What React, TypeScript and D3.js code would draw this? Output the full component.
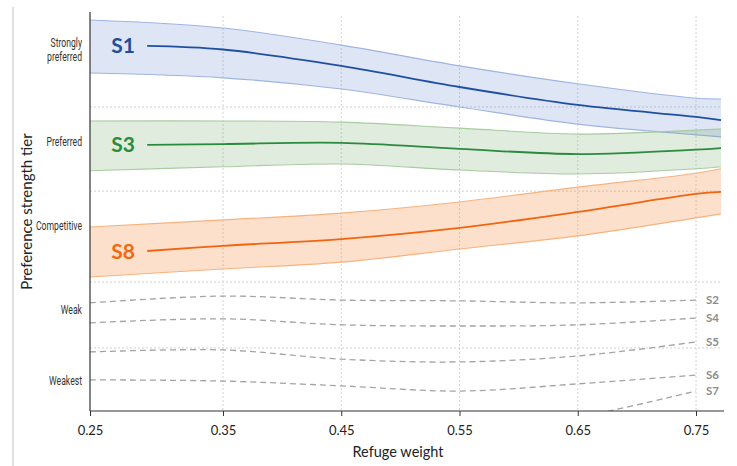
import React, { useEffect, useRef } from 'react';
import * as d3 from 'd3';

// x samples (refuge weight) used by the bands and the main lines
const bandX = [0.25, 0.35, 0.45, 0.55, 0.65, 0.75, 0.771];
const lineX = [0.293, 0.35, 0.45, 0.55, 0.65, 0.75, 0.771];
const dashX = [0.25, 0.35, 0.45, 0.55, 0.65, 0.75];

// preference score (0-100)
const s1Mid = [91.5, 90.6, 86.5, 81.2, 76.7, 73.7, 72.9];
const s1Hi = [98.0, 96.0, 91.7, 86.5, 82.0, 78.4, 78.2];
const s1Lo = [84.7, 83.5, 80.7, 76.2, 71.9, 69.2, 68.7];

const s3Mid = [66.7, 66.9, 67.2, 65.7, 64.4, 65.5, 65.9];
const s3Hi = [72.7, 72.7, 72.4, 70.9, 69.4, 70.4, 70.7];
const s3Lo = [60.2, 61.2, 61.9, 60.4, 59.4, 60.7, 61.2];

const s8Mid = [40.1, 41.4, 43.1, 45.9, 49.9, 54.4, 54.9];
const s8Hi = [46.1, 47.9, 49.6, 52.4, 56.1, 59.6, 60.7];
const s8Lo = [33.6, 35.6, 37.3, 40.6, 43.9, 48.4, 49.4];

const s2 = [27.1, 28.8, 27.8, 27.6, 27.1, 27.8];
const s4 = [22.1, 23.1, 21.6, 21.3, 21.6, 23.3];
const s5 = [14.8, 15.3, 13.0, 12.3, 13.8, 17.3];
const s6 = [7.8, 7.5, 6.3, 5.0, 6.8, 9.0];
const s7X = [0.55, 0.65, 0.75];
const s7 = [-6.0, -1.6, 5.0];

const xTicks = [0.25, 0.35, 0.45, 0.55, 0.65, 0.75];
const tierBreaks = [15.8, 32.3, 55.1, 76.2];
const tierLabels = [['Strongly', 'preferred'], ['Preferred'], ['Competitive'], ['Weak'], ['Weakest']];
const tierPos = [90.5, 67.4, 46.4, 25.3, 7.5];

const mainSeries = [
  { name: 'S1', mid: s1Mid, hi: s1Hi, lo: s1Lo, line: '#1f4fa0', fill: 'rgba(70,110,200,0.18)', edge: '#9fb4e2', text: '#1f4e9a' },
  { name: 'S3', mid: s3Mid, hi: s3Hi, lo: s3Lo, line: '#2b8a3e', fill: 'rgba(80,150,70,0.18)', edge: '#a8cc9f', text: '#2e8b3a' },
  { name: 'S8', mid: s8Mid, hi: s8Hi, lo: s8Lo, line: '#f0650e', fill: 'rgba(245,130,50,0.25)', edge: '#f8b27e', text: '#f06a12' },
];

const weakSeries = [
  { name: 'S2', xs: dashX, ys: s2 },
  { name: 'S4', xs: dashX, ys: s4 },
  { name: 'S5', xs: dashX, ys: s5 },
  { name: 'S6', xs: dashX, ys: s6 },
  { name: 'S7', xs: s7X, ys: s7 },
];

const W = 737;
const H = 466;
const left = 90;
const right = 724;
const top = 12;
const bottom = 411;

const App = () => {
  const ref = useRef<SVGSVGElement>(null);

  useEffect(() => {
    document.body.style.margin = '0';
    const svg = d3.select(ref.current);
    svg.selectAll('*').remove();

    const font = 'Lato, "Open Sans", sans-serif';
    const curve = d3.curveCatmullRom.alpha(0.5);

    // first interval is drawn wider than the rest, as in the reference
    const x = d3.scaleLinear()
      .domain([0.25, 0.35, 0.75, 0.7735])
      .range([left, 223, 696, right]);
    const y = d3.scaleLinear().domain([0, 100]).range([bottom, top]);

    svg.append('defs').append('clipPath').attr('id', 'plot-clip')
      .append('rect')
      .attr('x', left).attr('y', top)
      .attr('width', right - left).attr('height', bottom - top);

    // frame line on the far left
    svg.append('line')
      .attr('x1', 13).attr('x2', 13).attr('y1', 7).attr('y2', H)
      .attr('stroke', '#c4c4c4').attr('stroke-width', 1);

    // grid
    svg.append('g').selectAll('line')
      .data(xTicks.slice(1))
      .enter().append('line')
      .attr('x1', d => x(d)).attr('x2', d => x(d))
      .attr('y1', 16).attr('y2', bottom)
      .attr('stroke', '#d4d4d4').attr('stroke-dasharray', '2,2');

    svg.append('g').selectAll('line')
      .data(tierBreaks)
      .enter().append('line')
      .attr('x1', left).attr('x2', right - 3)
      .attr('y1', d => y(d)).attr('y2', d => y(d))
      .attr('stroke', '#d0d0d0').attr('stroke-dasharray', '2,2');

    const plot = svg.append('g').attr('clip-path', 'url(#plot-clip)');

    // bands + lines
    mainSeries.forEach(s => {
      const area = d3.area<number>()
        .x((d, i) => x(bandX[i]))
        .y0((d, i) => y(s.lo[i]))
        .y1(d => y(d))
        .curve(curve);
      plot.append('path')
        .attr('d', area(s.hi))
        .attr('fill', s.fill);

      const edge = d3.line<number>()
        .x((d, i) => x(bandX[i]))
        .y(d => y(d))
        .curve(curve);
      [s.hi, s.lo].forEach(e => {
        plot.append('path')
          .attr('d', edge(e))
          .attr('fill', 'none')
          .attr('stroke', s.edge)
          .attr('stroke-width', 1.1);
      });

      const mid = d3.line<number>()
        .x((d, i) => x(lineX[i]))
        .y(d => y(d))
        .curve(curve);
      plot.append('path')
        .attr('d', mid(s.mid))
        .attr('fill', 'none')
        .attr('stroke', s.line)
        .attr('stroke-width', 1.8);

      svg.append('text')
        .attr('x', x(lineX[0]) - 24)
        .attr('y', y(s.mid[0]))
        .attr('dy', '0.36em')
        .attr('text-anchor', 'middle')
        .style('font-family', font)
        .style('font-weight', 'bold')
        .style('font-size', '21px')
        .style('fill', s.text)
        .text(s.name);
    });

    // weak tiers, dashed
    weakSeries.forEach(s => {
      const line = d3.line<number>()
        .x((d, i) => x(s.xs[i]))
        .y(d => y(d))
        .curve(curve);
      plot.append('path')
        .attr('d', line(s.ys))
        .attr('fill', 'none')
        .attr('stroke', '#a3a3a3')
        .attr('stroke-width', 1.3)
        .attr('stroke-dasharray', '6,4');

      svg.append('text')
        .attr('x', x(s.xs[s.xs.length - 1]) + 10)
        .attr('y', y(s.ys[s.ys.length - 1]))
        .attr('dy', '0.35em')
        .style('font-family', font)
        .style('font-weight', 'bold')
        .style('font-size', '11.5px')
        .style('fill', '#8c8c8c')
        .text(s.name);
    });

    // axes
    svg.append('line')
      .attr('x1', left).attr('x2', left).attr('y1', top).attr('y2', bottom)
      .attr('stroke', '#333').attr('stroke-width', 1.2);

    const xAxis = svg.append('g').attr('transform', `translate(0,${bottom})`)
      .call(d3.axisBottom(x).tickValues(xTicks).tickSize(5).tickFormat(d3.format('.2f')));
    xAxis.select('.domain').attr('stroke', '#333').attr('stroke-width', 1.2)
      .attr('d', `M${left},0H${right}`);
    xAxis.selectAll('.tick line').attr('stroke', '#333');
    xAxis.selectAll('.tick text')
      .attr('dy', '1.2em')
      .style('font-family', font)
      .style('font-size', '13px')
      .style('fill', '#222');

    svg.append('text')
      .attr('x', 398).attr('y', 457)
      .attr('text-anchor', 'middle')
      .style('font-family', font)
      .style('font-size', '14.5px')
      .style('fill', '#222')
      .text('Refuge weight');

    // tier labels, horizontally condensed like the reference
    tierLabels.forEach((lines, i) => {
      const t = svg.append('text')
        .attr('transform', `translate(82,${y(tierPos[i])}) scale(0.72,1)`)
        .attr('text-anchor', 'end')
        .style('font-family', 'Roboto, sans-serif')
        .style('font-size', '12px')
        .style('fill', '#333');
      lines.forEach((l, j) => {
        t.append('tspan')
          .attr('x', 0)
          .attr('y', (j - (lines.length - 1) / 2) * 13.5)
          .attr('dy', '0.35em')
          .text(l);
      });
    });

    svg.append('text')
      .attr('transform', `translate(27,${(top + bottom) / 2}) rotate(-90)`)
      .attr('dy', '0.35em')
      .attr('text-anchor', 'middle')
      .style('font-family', font)
      .style('font-size', '15px')
      .style('fill', '#222')
      .text('Preference strength tier');
  }, []);

  return <svg ref={ref} width={W} height={H} style={{ display: 'block', background: '#fff' }} />;
};

export default App;
